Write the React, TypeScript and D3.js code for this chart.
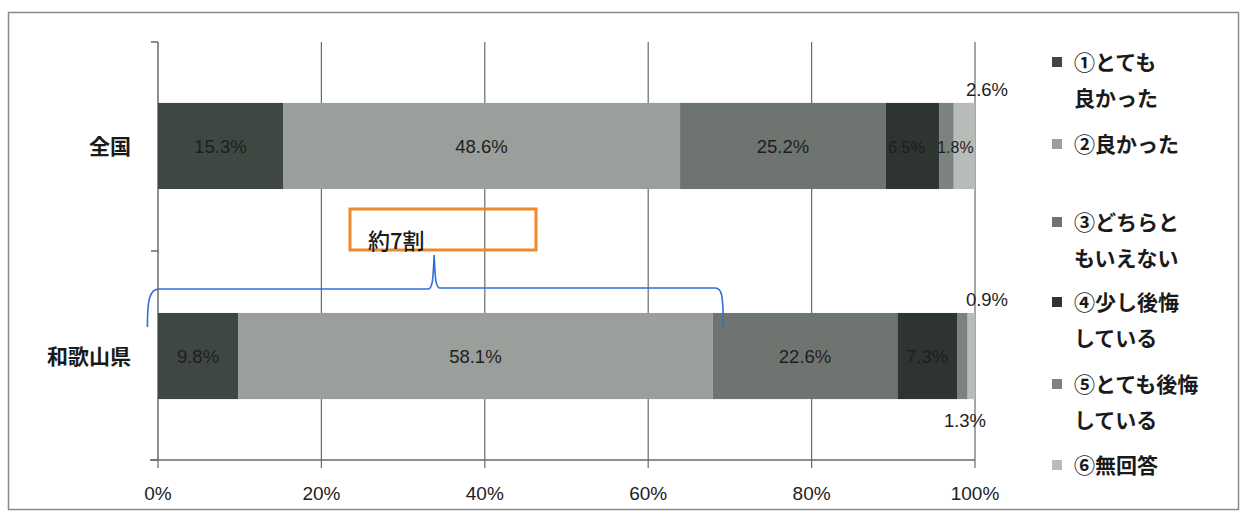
import React from "react";
import * as d3 from "d3";

const categories = ["全国", "和歌山県"];
const seriesNames = [
  ["①とても", "良かった"],
  ["②良かった"],
  ["③どちらと", "もいえない"],
  ["④少し後悔", "している"],
  ["⑤とても後悔", "している"],
  ["⑥無回答"],
];
const values: number[][] = [
  [15.3, 48.6, 25.2, 6.5, 1.8, 2.6],
  [9.8, 58.1, 22.6, 7.3, 1.3, 0.9],
];
const colors = ["#3f4742", "#9a9f9c", "#6e7571", "#2e3430", "#7c827e", "#b8bcb9"];
const xTicks = [0, 20, 40, 60, 80, 100];

const W = 1244;
const H = 521;
const FONT = "'Noto Sans CJK JP', 'Noto Sans', sans-serif";
const NUMFONT = "'Liberation Sans', 'Noto Sans', sans-serif";

export default function App() {
  const x = d3.scaleLinear().domain([0, 100]).range([158, 975]);
  const y = d3
    .scaleBand<string>()
    .domain(categories)
    .range([42, 460])
    .paddingInner(0.59)
    .paddingOuter(0.29);
  const plotTop = 42;
  const plotBottom = 460;
  const bw = y.bandwidth();

  const stacked = values.map((row) => {
    let acc = 0;
    return row.map((v) => {
      const s = acc;
      acc += v;
      return { s, e: acc, v };
    });
  });

  const labelMode = (ci: number, si: number): "in" | "above" | "below" => {
    if (si === 5) return "above";
    if (ci === 1 && si === 4) return "below";
    return "in";
  };
  // small horizontal nudges so that crowded in-bar labels stay readable
  const nudge = (ci: number, si: number) => {
    if (ci === 0 && si === 3) return -6;
    if (ci === 0 && si === 4) return 9;
    return 0;
  };

  const braceL = x(-1.3);
  const braceR = x(69.2);
  const braceMid = x(33.8);
  const braceY = 289;

  return (
    <svg width={W} height={H} style={{ display: "block", position: "absolute", left: 0, top: 0 }}>
      <rect x={0} y={0} width={W} height={H} fill="#fff" />
      <rect x={8.5} y={12.5} width={1230} height={497} fill="none" stroke="#8a8a8a" strokeWidth={1.5} />

      {xTicks.slice(1).map((t) => (
        <line key={"g" + t} x1={x(t)} x2={x(t)} y1={plotTop} y2={plotBottom} stroke="#6a6a6a" strokeWidth={1.2} />
      ))}
      <line x1={x(0)} x2={x(0)} y1={plotTop} y2={plotBottom} stroke="#6a6a6a" strokeWidth={1.5} />
      {[plotTop, (plotTop + plotBottom) / 2, plotBottom].map((yy, i) => (
        <line key={"yt" + i} x1={x(0) - 7} x2={x(0)} y1={yy} y2={yy} stroke="#6a6a6a" strokeWidth={1.5} />
      ))}
      <line x1={x(0) - 8} x2={x(100)} y1={plotBottom} y2={plotBottom} stroke="#6a6a6a" strokeWidth={1.5} />
      {xTicks.map((t) => (
        <g key={"xt" + t}>
          <line x1={x(t)} x2={x(t)} y1={plotBottom} y2={plotBottom + 8} stroke="#6a6a6a" strokeWidth={1.2} />
          <text x={x(t)} y={500} textAnchor="middle" fontFamily={NUMFONT} fontSize={19} fill="#222">
            {t + "%"}
          </text>
        </g>
      ))}

      {categories.map((c, ci) => (
        <g key={c}>
          {stacked[ci].map((d, si) => (
            <rect
              key={si}
              x={x(d.s)}
              y={y(c)!}
              width={x(d.e) - x(d.s)}
              height={bw}
              fill={colors[si]}
            />
          ))}
          {stacked[ci].map((d, si) => {
            const mode = labelMode(ci, si);
            const cx = (x(d.s) + x(d.e)) / 2 + nudge(ci, si);
            const by = y(c)!;
            let tx = cx;
            let ty = by + bw / 2 + 7;
            if (mode === "above") {
              tx = x(100) + 12;
              ty = by - 7;
            } else if (mode === "below") {
              tx = x(100) - 10;
              ty = by + bw + 28;
            }
            const small = ci === 0 && (si === 3 || si === 4);
            return (
              <text
                key={"l" + si}
                x={tx}
                y={ty}
                textAnchor="middle"
                fontFamily={NUMFONT}
                fontSize={small ? 16 : 18.5}
                fill="#1e1e1e"
              >
                {d.v.toFixed(1) + "%"}
              </text>
            );
          })}
          <text
            x={131}
            y={y(c)! + bw / 2 + 8}
            textAnchor="end"
            fontFamily={FONT}
            fontWeight="bold"
            fontSize={21}
            fill="#1a1a1a"
          >
            {c}
          </text>
        </g>
      ))}

      {seriesNames.map((lines, i) => {
        const tops = [62, 144, 222, 302, 384, 465];
        const ly = tops[i];
        return (
          <g key={"lg" + i}>
            <rect x={1052} y={ly - 5} width={10} height={10} fill={colors[i]} />
            {lines.map((ln, k) => (
              <text
                key={k}
                x={1074}
                y={ly + 8 + k * 36}
                fontFamily={FONT}
                fontWeight="bold"
                fontSize={21}
                fill="#1a1a1a"
              >
                {ln}
              </text>
            ))}
          </g>
        );
      })}

      <rect x={350} y={209} width={186} height={41} fill="none" stroke="#f0892a" strokeWidth={3} />
      <text x={368} y={249} fontFamily={FONT} fontWeight={500} fontSize={22} fill="#1a1a1a">
        約7割
      </text>
      <path
        d={`M${braceL},${327} C${braceL},${300} ${braceL + 2},${braceY} ${braceL + 12},${braceY}
            L${braceMid - 6},${braceY} C${braceMid - 1},${braceY} ${braceMid - 1},${braceY - 14} ${braceMid},${255}
            C${braceMid + 1},${braceY - 14} ${braceMid + 1},${braceY - 1} ${braceMid + 6},${braceY - 1}
            L${braceR - 8},${braceY - 1} C${braceR - 2},${braceY - 1} ${braceR},${braceY + 4} ${braceR},${330}`}
        fill="none"
        stroke="#2f6fd6"
        strokeWidth={1.6}
      />
    </svg>
  );
}
